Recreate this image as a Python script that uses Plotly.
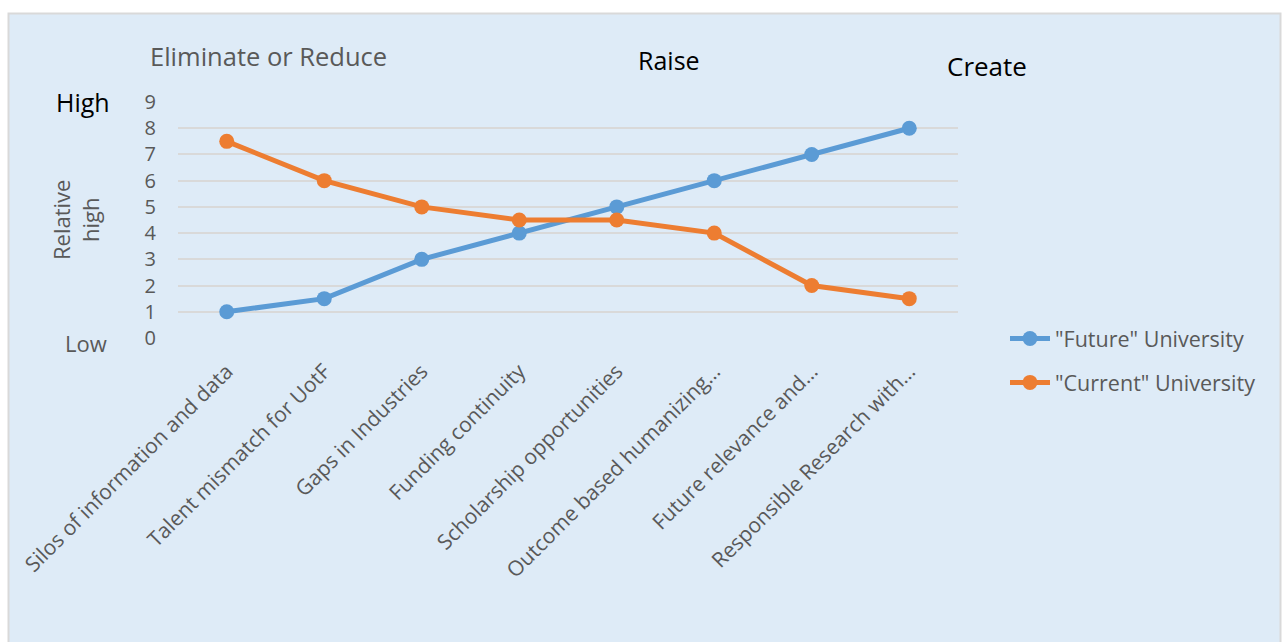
import plotly.graph_objects as go

categories = [
    "Silos of information and data",
    "Talent mismatch for UotF",
    "Gaps in Industries",
    "Funding continuity",
    "Scholarship opportunities",
    "Outcome based humanizing…",
    "Future relevance and…",
    "Responsible Research with…",
]
future_university = [1, 1.5, 3, 4, 5, 6, 7, 8]
current_university = [7.5, 6, 5, 4.5, 4.5, 4, 2, 1.5]
y_ticks = list(range(0, 10))

W, H = 1282, 642
L, R, T, B = 178, 958, 102, 338


def px(x):
    return (x - L) / (R - L)


def py(y):
    return (B - y) / (B - T)


FONT = "Open Sans"
GRAY = "#595959"
BLUE = "#5b9bd5"
ORANGE = "#ed7d31"

fig = go.Figure()
fig.add_trace(go.Scatter(
    x=categories, y=future_university, name='"Future" University',
    mode="lines+markers", line=dict(color=BLUE, width=5),
    marker=dict(color=BLUE, size=15), legendgroup="a",
))
fig.add_trace(go.Scatter(
    x=categories, y=current_university, name='"Current" University',
    mode="lines+markers", line=dict(color=ORANGE, width=5),
    marker=dict(color=ORANGE, size=15), legendgroup="b",
))

fig.update_layout(
    width=W, height=H,
    margin=dict(l=L, r=W - R, t=T, b=H - B, autoexpand=False),
    paper_bgcolor="white",
    plot_bgcolor="rgba(0,0,0,0)",
    font=dict(family=FONT, color=GRAY, size=20),
    showlegend=True,
    legend=dict(
        x=px(1005), y=py(318), xanchor="left", yanchor="top",
        bgcolor="rgba(0,0,0,0)", font=dict(size=21.5, color=GRAY),
        traceorder="grouped", tracegroupgap=13, itemwidth=40,
    ),
    xaxis=dict(
        type="category", range=[-0.5, 7.5], showgrid=False, zeroline=False,
        showline=False, tickangle=-45, ticks="", ticklabelstandoff=16,
        tickfont=dict(size=21, color=GRAY, family=FONT),
    ),
    yaxis=dict(
        range=[0, 9], tickvals=y_ticks, showgrid=True, gridcolor="#d9d9d9",
        gridwidth=1.5, zeroline=False, showline=False, ticks="",
        tickfont=dict(size=20, color=GRAY, family=FONT), ticklabelstandoff=21,
    ),
    shapes=[dict(
        type="rect", xref="paper", yref="paper", layer="below",
        x0=px(8.5), x1=px(1280.5), y0=py(660), y1=py(13.5),
        fillcolor="#deebf7", line=dict(color="#d9d9d9", width=2),
    )],
    annotations=[
        dict(text="Eliminate or Reduce", x=px(148), y=py(56), xref="paper", yref="paper",
             xanchor="left", yanchor="middle", showarrow=False,
             font=dict(size=25.5, color=GRAY, family=FONT)),
        dict(text="Raise", x=px(636), y=py(60), xref="paper", yref="paper",
             xanchor="left", yanchor="middle", showarrow=False,
             font=dict(size=25, color="black", family=FONT)),
        dict(text="Create", x=px(945), y=py(66), xref="paper", yref="paper",
             xanchor="left", yanchor="middle", showarrow=False,
             font=dict(size=26, color="black", family=FONT)),
        dict(text="High", x=px(54), y=py(102), xref="paper", yref="paper",
             xanchor="left", yanchor="middle", showarrow=False,
             font=dict(size=25, color="black", family=FONT)),
        dict(text="Low", x=px(63), y=py(343), xref="paper", yref="paper",
             xanchor="left", yanchor="middle", showarrow=False,
             font=dict(size=22, color=GRAY, family=FONT)),
        dict(text="Relative<br>high", x=px(75), y=py(220), xref="paper", yref="paper",
             xanchor="center", yanchor="middle", showarrow=False, textangle=-90,
             font=dict(size=22, color=GRAY, family=FONT)),
    ],
)

fig.write_html("out.html")
